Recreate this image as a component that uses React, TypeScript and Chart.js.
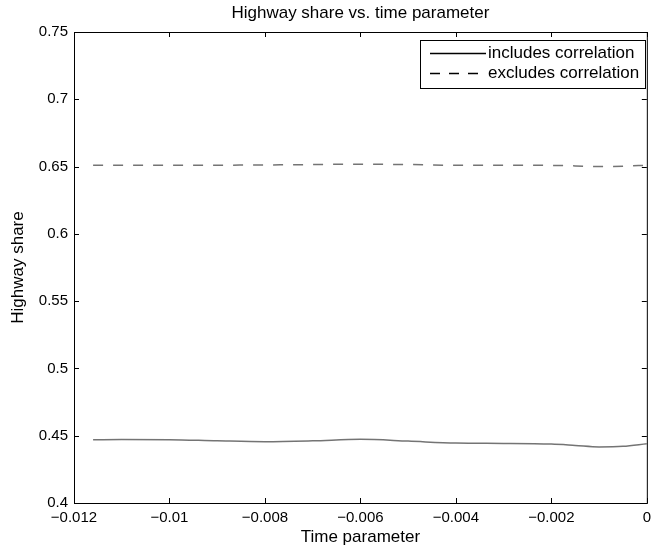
import React, { useEffect, useRef } from "react";
import { Chart, registerables } from "chart.js";

Chart.register(...registerables);

const TITLE = "Highway share vs. time parameter";
const X_LABEL = "Time parameter";
const Y_LABEL = "Highway share";
const SERIES_NAMES = ["includes correlation", "excludes correlation"];

const timeParam = [-0.0116, -0.011, -0.01, -0.009, -0.008, -0.007, -0.006, -0.005, -0.004, -0.003, -0.002, -0.0015, -0.001, -0.0005, 0];
const includesCorr = [0.4470, 0.4471, 0.4470, 0.4462, 0.4456, 0.4462, 0.4473, 0.4460, 0.4445, 0.4443, 0.4438, 0.4428, 0.4417, 0.4421, 0.4440];
const excludesCorr = [0.6510, 0.6510, 0.6509, 0.6510, 0.6512, 0.6515, 0.6518, 0.6515, 0.6510, 0.6510, 0.6509, 0.6505, 0.6500, 0.6503, 0.6510];

const X_MIN = -0.012, X_MAX = 0, X_STEP = 0.002;
const Y_MIN = 0.4, Y_MAX = 0.75, Y_STEP = 0.05;

const FONT = "'Liberation Sans', Arial, Helvetica, sans-serif";
const LINE_COLOR = "#747474";

function fmt(value: number): string {
  const v = Math.round(value * 1e6) / 1e6;
  if (v < 0) return "\u2212" + String(-v);
  return String(v);
}

const framePlugin = {
  id: "matlabFrame",
  afterDraw(chart: any) {
    const { ctx, chartArea } = chart;
    const { left, right, top, bottom } = chartArea;
    ctx.save();
    ctx.strokeStyle = "#000";
    ctx.lineWidth = 1;
    ctx.strokeRect(left + 0.5, top + 0.5, right - left, bottom - top);
    const xs = chart.scales.x;
    const ys = chart.scales.y;
    const tl = 5;
    ctx.beginPath();
    xs.ticks.forEach((t: any) => {
      const px = Math.round(xs.getPixelForValue(t.value)) + 0.5;
      ctx.moveTo(px, bottom);
      ctx.lineTo(px, bottom - tl);
      ctx.moveTo(px, top);
      ctx.lineTo(px, top + tl);
    });
    ys.ticks.forEach((t: any) => {
      const py = Math.round(ys.getPixelForValue(t.value)) + 0.5;
      ctx.moveTo(left, py);
      ctx.lineTo(left + tl, py);
      ctx.moveTo(right, py);
      ctx.lineTo(right - tl, py);
    });
    ctx.stroke();

    ctx.fillStyle = "#000";
    ctx.font = `17px ${FONT}`;
    ctx.textAlign = "center";
    ctx.textBaseline = "middle";
    ctx.fillText(TITLE, (left + right) / 2, 13);
    ctx.fillText(X_LABEL, (left + right) / 2, 537);
    ctx.save();
    ctx.translate(18, (top + bottom) / 2);
    ctx.rotate(-Math.PI / 2);
    ctx.fillText(Y_LABEL, 0, 0);
    ctx.restore();

    const lx = 420, ly = 40, lw = 225, lh = 48;
    ctx.fillStyle = "#fff";
    ctx.fillRect(lx, ly, lw, lh);
    ctx.strokeStyle = "#000";
    ctx.lineWidth = 1;
    ctx.strokeRect(lx + 0.5, ly + 0.5, lw, lh);
    const rows = [53, 73];
    rows.forEach((ry, i) => {
      ctx.beginPath();
      ctx.setLineDash(i === 0 ? [] : [10, 9]);
      ctx.lineWidth = 1.3;
      ctx.strokeStyle = "#000";
      ctx.moveTo(430, ry + 0.5);
      ctx.lineTo(486, ry + 0.5);
      ctx.stroke();
      ctx.setLineDash([]);
      ctx.fillStyle = "#000";
      ctx.font = `17px ${FONT}`;
      ctx.textAlign = "left";
      ctx.textBaseline = "middle";
      ctx.fillText(SERIES_NAMES[i], 488, ry);
    });
    ctx.restore();
  },
};

export default function App() {
  const ref = useRef<HTMLCanvasElement | null>(null);

  useEffect(() => {
    if (!ref.current) return;
    const chart = new Chart(ref.current, {
      type: "line",
      data: {
        datasets: [
          {
            label: SERIES_NAMES[0],
            data: timeParam.map((x, i) => ({ x, y: includesCorr[i] })),
            borderColor: LINE_COLOR,
            borderWidth: 1.5,
            pointRadius: 0,
            cubicInterpolationMode: "monotone",
            fill: false,
          },
          {
            label: SERIES_NAMES[1],
            data: timeParam.map((x, i) => ({ x, y: excludesCorr[i] })),
            borderColor: LINE_COLOR,
            borderWidth: 1.5,
            borderDash: [10, 10],
            pointRadius: 0,
            cubicInterpolationMode: "monotone",
            fill: false,
          },
        ],
      },
      options: {
        responsive: false,
        animation: false,
        layout: { padding: { left: 0, top: 32, right: 5, bottom: 0 } },
        plugins: {
          legend: { display: false },
          title: { display: false },
          tooltip: { enabled: false },
        },
        scales: {
          x: {
            type: "linear",
            min: X_MIN,
            max: X_MAX,
            grid: { display: false, drawTicks: false },
            border: { display: false },
            ticks: {
              stepSize: X_STEP,
              color: "#000",
              padding: 6,
              maxRotation: 0,
              font: { family: FONT, size: 15 },
              callback: (v: any) => fmt(Number(v)),
            },
            afterFit: (s: any) => { s.height = 47; },
          },
          y: {
            type: "linear",
            min: Y_MIN,
            max: Y_MAX,
            grid: { display: false, drawTicks: false },
            border: { display: false },
            ticks: {
              stepSize: Y_STEP,
              color: "#000",
              padding: 6,
              font: { family: FONT, size: 15 },
              callback: (v: any) => fmt(Number(v)),
            },
            afterFit: (s: any) => { s.width = 74; },
          },
        },
      },
      plugins: [framePlugin],
    });
    return () => chart.destroy();
  }, []);

  return (
    <div style={{ position: "absolute", left: 0, top: 0, width: 657, height: 550, background: "#fff" }}>
      <canvas ref={ref} width={657} height={550} style={{ display: "block" }} />
    </div>
  );
}
